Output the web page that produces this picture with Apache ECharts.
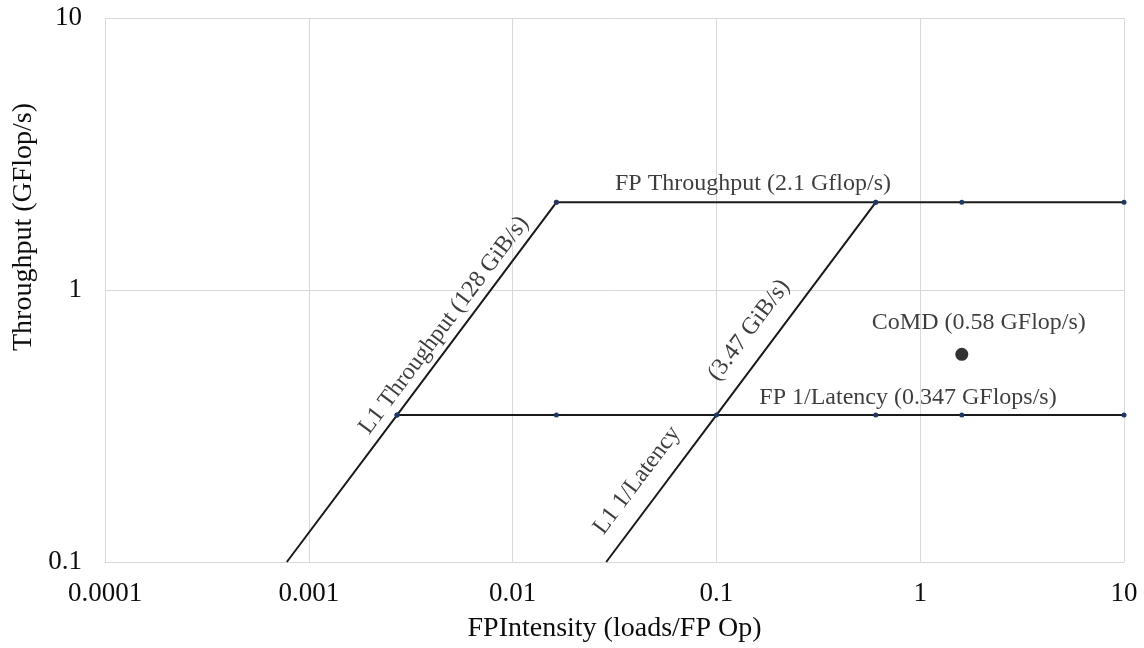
<!DOCTYPE html>
<html lang="en">
<head>
    <meta charset="UTF-8">
    <title>Roofline</title>
    <style>
        html, body { margin: 0; padding: 0; background: #fff; }
        #main { width: 1144px; height: 648px; }
    </style>
</head>
<body>
    <div id="main"></div>
    <script src="https://cdn.jsdelivr.net/npm/echarts@6/dist/echarts.min.js"></script>
    <script>
        // roof lines
        var fpThroughput = [[0.0164, 2.1], [0.605, 2.1], [1.6, 2.1], [10, 2.1]];
        var fpLatency = [[0.00271, 0.347], [0.0164, 0.347], [0.605, 0.347], [1.6, 0.347], [10, 0.347]];
        var l1Throughput = [[0.00078, 0.1], [0.00271, 0.347], [0.0164, 2.1]];
        var l1Latency = [[0.0288, 0.1], [0.1, 0.347], [0.605, 2.1]];
        var comd = [[1.6, 0.58]];

        var xTicks = ['0.0001', '0.001', '0.01', '0.1', '1', '10'];
        var yTicks = ['0.1', '1', '10'];

        // text annotations: [x, y, text, angle]
        var notes = [
            [0.1512, 2.45, 'FP Throughput (2.1 Gflop/s)', 0],
            [0.871, 0.401, 'FP 1/Latency (0.347 GFlops/s)', 0],
            [0.00461, 0.742, 'L1 Throughput (128 GiB/s)', 53],
            [0.0408, 0.1995, 'L1 1/Latency', 53],
            [0.1445, 0.711, '(3.47 GiB/s)', 53]
        ];

        var font = 'Liberation Serif, Times New Roman, serif';
        var ink = '#1a1a1a';
        var txt = '#0d0d0d';
        var navy = '#203864';

        function tickText(v) {
            return String(+Number(v).toPrecision(1));
        }

        function roof(name, data) {
            return {
                name: name,
                type: 'line',
                data: data.map(function (p) {
                    return p[1] <= 0.1 ? { value: p, symbol: 'none' } : p;
                }),
                symbol: 'circle',
                symbolSize: 5,
                itemStyle: { color: navy },
                lineStyle: { color: ink, width: 2 },
                z: 3,
                silent: true
            };
        }

        var myChart = echarts.init(document.getElementById('main'));

        var series = [
            roof('FP Throughput', fpThroughput),
            roof('FP 1/Latency', fpLatency),
            roof('L1 Throughput', l1Throughput),
            roof('L1 1/Latency', l1Latency),
            {
                name: 'CoMD',
                type: 'scatter',
                data: comd,
                symbolSize: 13,
                itemStyle: { color: '#000' },
                z: 4,
                label: {
                    show: true,
                    position: 'top',
                    distance: 13,
                    offset: [17, 0],
                    formatter: 'CoMD (0.58 GFlop/s)',
                    fontFamily: font,
                    fontSize: 24,
                    color: txt,
                    textBorderWidth: 0
                }
            }
        ];

        notes.forEach(function (n) {
            series.push({
                type: 'scatter',
                data: [[n[0], n[1]]],
                symbolSize: 0,
                silent: true,
                z: 5,
                label: {
                    show: true,
                    position: 'inside',
                    rotate: n[3],
                    formatter: n[2],
                    fontFamily: font,
                    fontSize: 24,
                    color: txt,
                    textBorderWidth: 0
                }
            });
        });

        // the orange-ish dot at the top corner
        series[0].data[0] = { value: fpThroughput[0], itemStyle: { color: '#a0522d' } };

        var option = {
            animation: false,
            grid: { left: 105, right: 20, top: 18, bottom: 83 },
            xAxis: {
                type: 'log',
                logBase: 10,
                min: 0.0001,
                max: 10,
                name: 'FPIntensity (loads/FP Op)',
                nameLocation: 'middle',
                nameGap: 53,
                nameTextStyle: { fontFamily: font, fontSize: 28, color: txt },
                axisLine: { lineStyle: { color: '#d9d9d9', width: 1 } },
                axisTick: { show: false },
                minorTick: { show: false },
                axisLabel: {
                    margin: 18,
                    fontFamily: font,
                    fontSize: 27,
                    color: txt,
                    formatter: function (v) {
                        var t = tickText(v);
                        return xTicks.indexOf(t) >= 0 ? t : '';
                    }
                },
                splitLine: { show: true, lineStyle: { color: '#d9d9d9', width: 1 } }
            },
            yAxis: {
                type: 'log',
                logBase: 10,
                min: 0.1,
                max: 10,
                name: 'Throughput (GFlop/s)',
                nameLocation: 'middle',
                nameGap: 64,
                nameTextStyle: { fontFamily: font, fontSize: 28, color: txt, padding: [0, 0, 0, 126] },
                axisLine: { show: true, lineStyle: { color: '#d9d9d9', width: 1 } },
                axisTick: { show: false },
                minorTick: { show: false },
                axisLabel: {
                    margin: 23,
                    fontFamily: font,
                    fontSize: 27,
                    color: txt,
                    formatter: function (v) {
                        var t = tickText(v);
                        return yTicks.indexOf(t) >= 0 ? t : '';
                    }
                },
                splitLine: { show: true, lineStyle: { color: '#d9d9d9', width: 1 } }
            },
            series: series
        };

        myChart.setOption(option);
    </script>
</body>
</html>
